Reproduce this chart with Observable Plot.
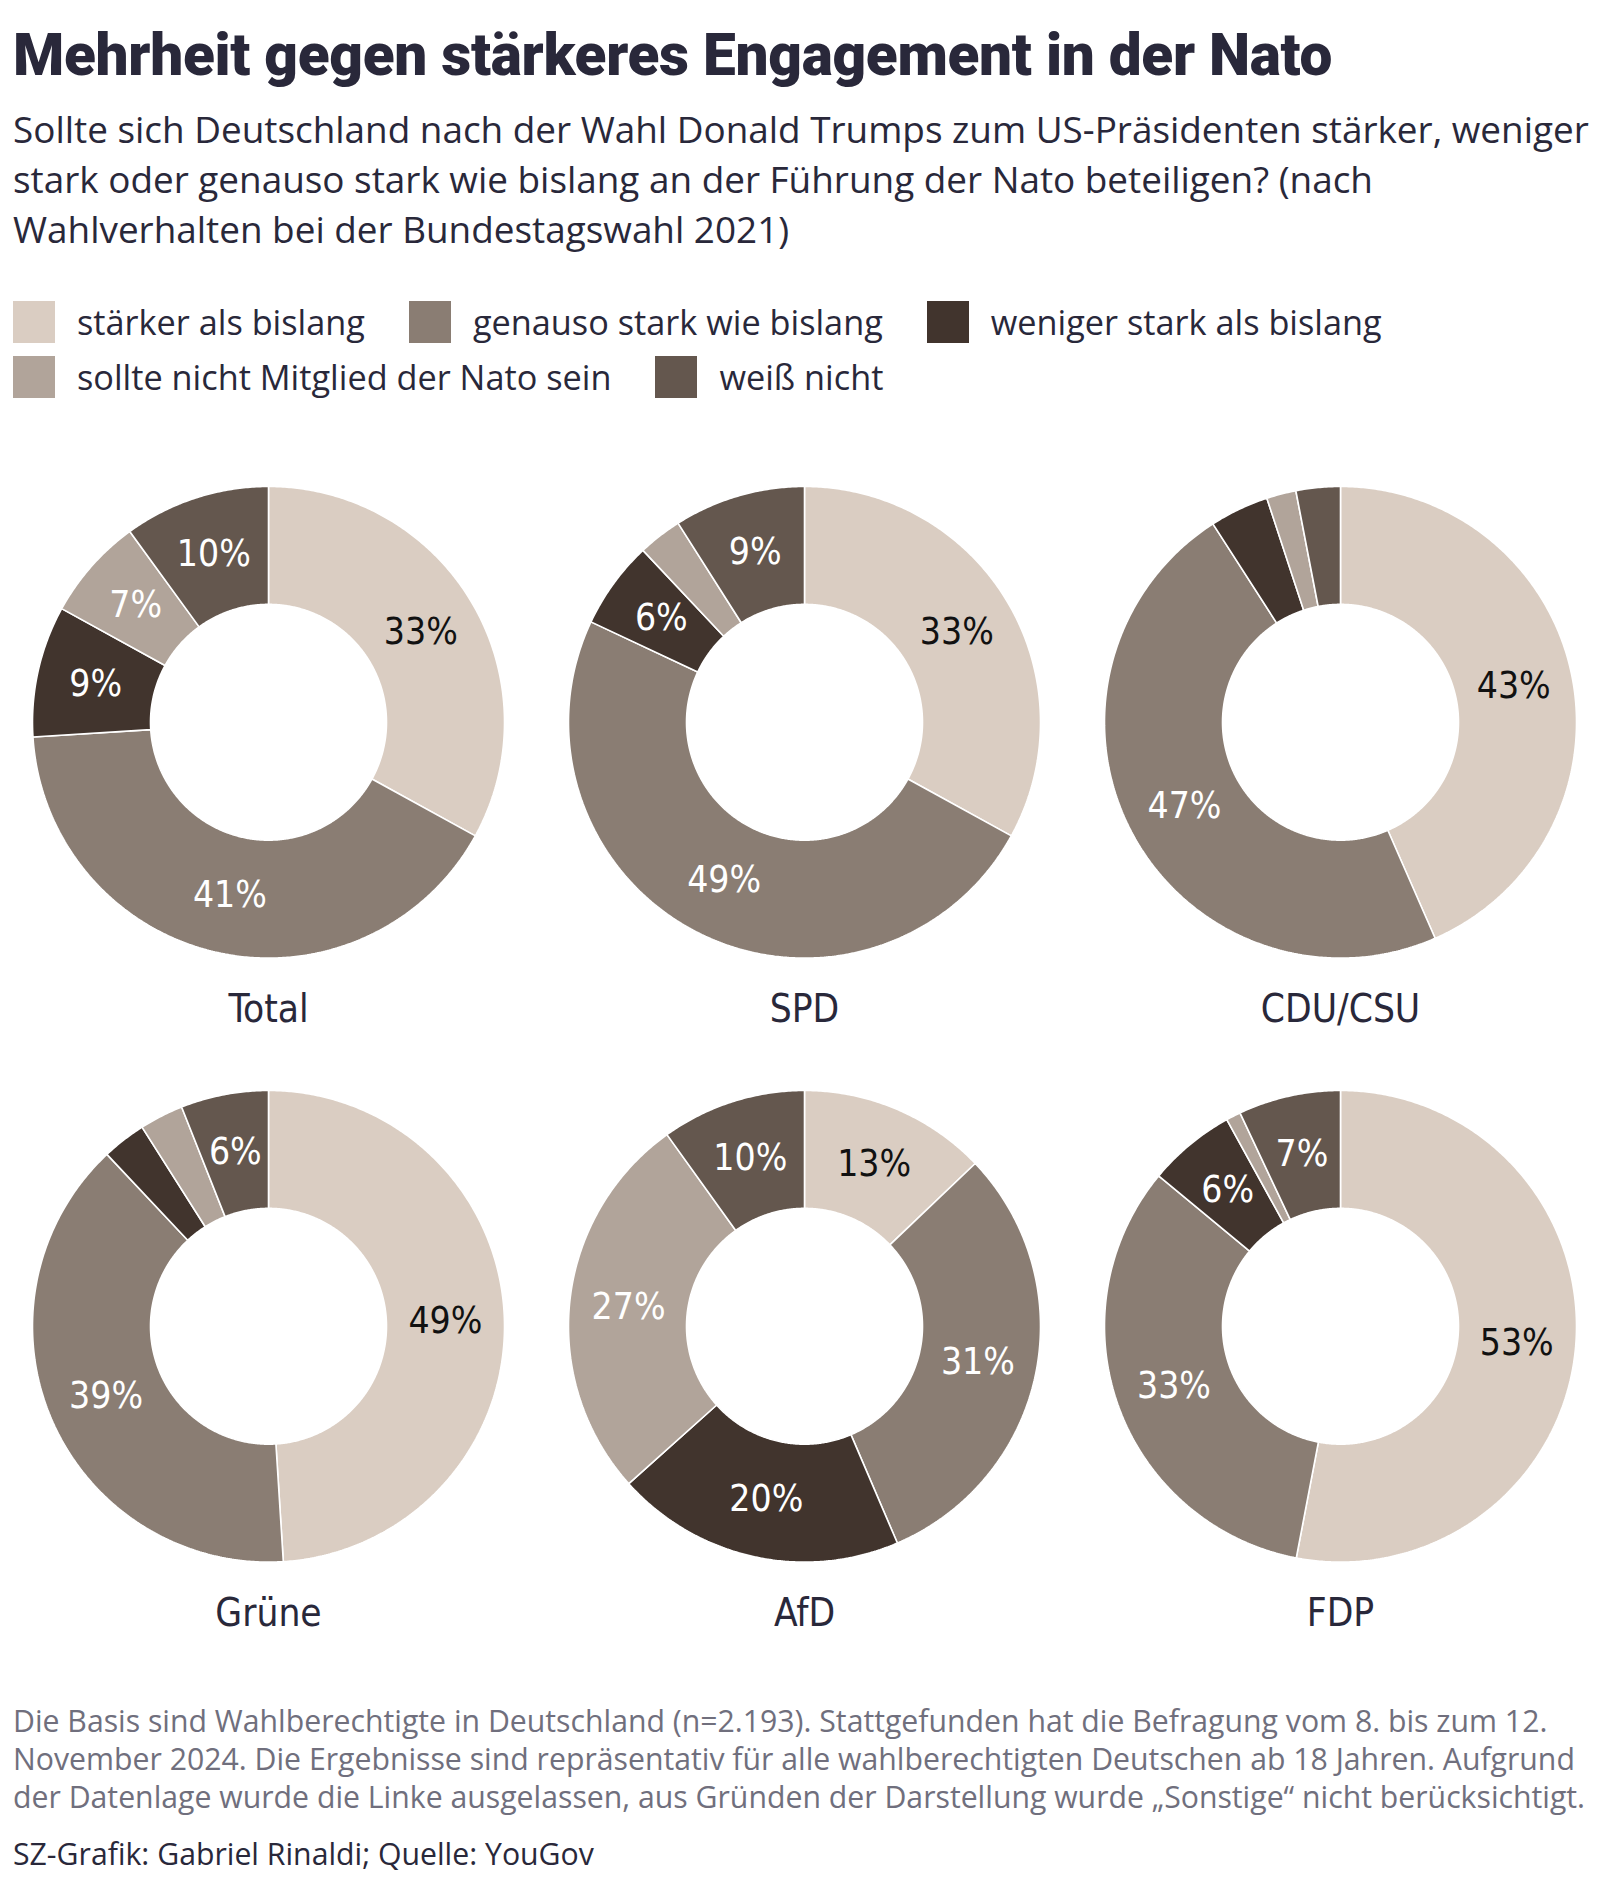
<!DOCTYPE html>
<html lang="de">
<head>
<meta charset="utf-8">
<script src="https://cdn.jsdelivr.net/npm/d3@7"></script>
<script src="https://cdn.jsdelivr.net/npm/@observablehq/plot@0.6"></script>
<style>
  html, body { margin: 0; padding: 0; background: #fff; overflow: hidden; }
  body { width: 1608px; height: 1901px; position: relative; color: #29283a; }
  .abs { position: absolute; left: 13px; white-space: nowrap; }
  #title { top: 25px; font-family: Roboto, sans-serif; font-weight: 900; font-size: 50px; line-height: 60px; letter-spacing: -0.3px; }
  #subtitle { top: 104px; font-family: "Open Sans", sans-serif; font-size: 33px; line-height: 50px; }
  #subtitle span, #footnote span { display: inline-block; }
  #legend { top: 294px; left: 13px; font-family: "Open Sans", sans-serif; font-size: 34px; }
  .lrow { display: flex; align-items: center; height: 55px; }
  .litem { display: flex; align-items: center; margin-right: 44px; }
  .sw { width: 42px; height: 42px; margin-right: 22px; flex: none; }
  #chart { position: absolute; left: 0; top: 440px; }
  #footnote { top: 1702px; font-family: "Open Sans", sans-serif; font-size: 27px; line-height: 38px; color: #706f7d; }
  #source { top: 1835px; font-family: "Open Sans", sans-serif; font-size: 27px; line-height: 37px; color: #29283a; }
</style>
</head>
<body>
<div id="title" class="abs"><span>Mehrheit gegen stärkeres Engagement in der Nato</span></div>
<div id="subtitle" class="abs">
  <span>Sollte sich Deutschland nach der Wahl Donald Trumps zum US-Präsidenten stärker, weniger</span><br>
  <span>stark oder genauso stark wie bislang an der Führung der Nato beteiligen? (nach</span><br>
  <span>Wahlverhalten bei der Bundestagswahl 2021)</span>
</div>
<div id="legend" class="abs"></div>
<div id="chart"></div>
<div id="footnote" class="abs">
  <span>Die Basis sind Wahlberechtigte in Deutschland (n=2.193). Stattgefunden hat die Befragung vom 8. bis zum 12.</span><br>
  <span>November 2024. Die Ergebnisse sind repräsentativ für alle wahlberechtigten Deutschen ab 18 Jahren. Aufgrund</span><br>
  <span>der Datenlage wurde die Linke ausgelassen, aus Gründen der Darstellung wurde „Sonstige“ nicht berücksichtigt.</span>
</div>
<div id="source" class="abs"><span>SZ-Grafik: Gabriel Rinaldi; Quelle: YouGov</span></div>
<script>
// ---------- data ----------
const categories = [
  "stärker als bislang",
  "genauso stark wie bislang",
  "weniger stark als bislang",
  "sollte nicht Mitglied der Nato sein",
  "weiß nicht"
];
const colors = ["#dacdc2", "#8a7d73", "#41342d", "#b1a49a", "#64574e"];
const parties = ["Total", "SPD", "CDU/CSU", "Grüne", "AfD", "FDP"];
const staerker      = [33, 33, 43, 49, 13, 53];
const genauso       = [41, 49, 47, 39, 31, 33];
const weniger       = [ 9,  6,  4,  3, 20,  6];
const nichtMitglied = [ 7,  3,  2,  3, 27,  1];
const weissNicht    = [10,  9,  3,  6, 10,  7];
const series = [staerker, genauso, weniger, nichtMitglied, weissNicht];

// ---------- fonts ----------
function hasFont(name) {
  const c = document.createElement("canvas").getContext("2d");
  const s = "Total CDU/CSU 33% stärker";
  c.font = "40px monospace"; const w0 = c.measureText(s).width;
  c.font = `40px '${name}', monospace`; const w1 = c.measureText(s).width;
  return Math.abs(w1 - w0) > 0.5;
}
const narrow = hasFont("Liberation Sans Narrow");
const condFamily = narrow ? "'Liberation Sans Narrow', sans-serif" : "'DejaVu Sans Condensed', 'DejaVu Sans', sans-serif";
const pctSize = narrow ? 45 : 37;
const partySize = narrow ? 47 : 38.5;

// ---------- legend ----------
const legend = document.getElementById("legend");
[[0, 1, 2], [3, 4]].forEach(rowIdx => {
  const row = document.createElement("div");
  row.className = "lrow";
  rowIdx.forEach(j => {
    const it = document.createElement("div");
    it.className = "litem";
    const sw = document.createElement("div");
    sw.className = "sw"; sw.style.background = colors[j];
    const tx = document.createElement("span");
    tx.className = "ltxt"; tx.textContent = categories[j];
    it.append(sw, tx); row.append(it);
  });
  legend.append(row);
});

// ---------- fit text widths ----------
function fitSize(el, target) {
  const w = el.getBoundingClientRect().width;
  const fs = parseFloat(getComputedStyle(el).fontSize);
  return fs * target / w;
}
const tEl = document.querySelector("#title span");
document.getElementById("title").style.fontSize = fitSize(tEl, 1317) + "px";
const sEl = document.querySelector("#subtitle span");
document.getElementById("subtitle").style.fontSize = fitSize(sEl, 1576) + "px";
const lEl = document.querySelector(".ltxt");
legend.style.fontSize = fitSize(lEl, 288) + "px";
const fEl = document.querySelector("#footnote span");
const fs = fitSize(fEl, 1535);
document.getElementById("footnote").style.fontSize = fs + "px";
document.getElementById("source").style.fontSize = fs + "px";

// ---------- donut geometry (derived from values) ----------
const rInner = 0.5, rOuter = 1, rLabel = 0.75;
const ringPts = [];
const labels = [];
parties.forEach((p, i) => {
  const col = i % 3, row = Math.floor(i / 3);
  const total = d3.sum(series, s => s[i]);
  let acc = 0;
  categories.forEach((cat, j) => {
    const v = series[j][i];
    const a0 = acc / total * 2 * Math.PI;
    acc += v;
    const a1 = acc / total * 2 * Math.PI;
    const n = Math.max(2, Math.ceil((a1 - a0) / (Math.PI / 360)));
    const key = p + "|" + cat;
    for (let k = 0; k <= n; k++) {
      const a = a0 + (a1 - a0) * k / n;
      ringPts.push({key, category: cat, col, row, x: rOuter * Math.sin(a), y: rOuter * Math.cos(a)});
    }
    for (let k = n; k >= 0; k--) {
      const a = a0 + (a1 - a0) * k / n;
      ringPts.push({key, category: cat, col, row, x: rInner * Math.sin(a), y: rInner * Math.cos(a)});
    }
    if (v >= 5) {
      const am = (a0 + a1) / 2;
      labels.push({category: cat, col, row, label: v + "%", x: rLabel * Math.sin(am), y: rLabel * Math.cos(am)});
    }
  });
});
const partyRows = parties.map((p, i) => ({party: p, col: i % 3, row: Math.floor(i / 3)}));

const R = 236; // pixel radius of a donut
const colW = 1608 / 3, rowH = 604.5, cy = 281, labelDrop = 300;

const chart = Plot.plot({
  width: 1608,
  height: 1240,
  marginTop: 0, marginRight: 0, marginLeft: 0, marginBottom: 1240 - 2 * rowH,
  fx: {padding: 0, axis: null},
  fy: {padding: 0, axis: null},
  x: {domain: [-colW / 2 / R, colW / 2 / R], axis: null},
  y: {domain: [-(rowH - cy) / R, cy / R], axis: null},
  color: {domain: categories, range: colors},
  style: {background: "transparent", overflow: "visible"},
  marks: [
    Plot.line(ringPts, {
      x: "x", y: "y", z: "key", fill: "category", fx: "col", fy: "row",
      stroke: "white", strokeWidth: 1.6, strokeLinejoin: "miter", curve: "linear-closed"
    }),
    Plot.text(labels.filter(d => d.category === categories[0]), {
      x: "x", y: "y", text: "label", fx: "col", fy: "row",
      fill: "#111", fontSize: pctSize, fontFamily: condFamily
    }),
    Plot.text(labels.filter(d => d.category !== categories[0]), {
      x: "x", y: "y", text: "label", fx: "col", fy: "row",
      fill: "white", fontSize: pctSize, fontFamily: condFamily
    }),
    Plot.text(partyRows, {
      frameAnchor: "bottom", dy: -(rowH - cy - labelDrop), text: "party", fx: "col", fy: "row",
      fill: "#29283a", fontSize: partySize, fontFamily: condFamily
    })
  ]
});
document.getElementById("chart").append(chart);
</script>
</body>
</html>
